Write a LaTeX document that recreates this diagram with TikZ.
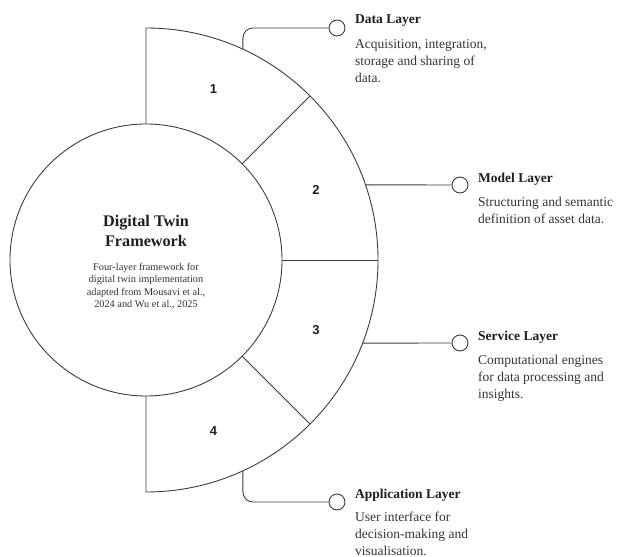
\documentclass[tikz,border=0pt]{standalone}
\usepackage{fontspec}
\setmainfont{Liberation Serif}
\newfontfamily\numfont{Liberation Sans}
\usetikzlibrary{calc}
\definecolor{ringgray}{HTML}{3C3C3C}
\definecolor{textdark}{HTML}{1E1E1E}
\definecolor{textgray}{HTML}{333333}
\tikzset{
  ring/.style={draw=ringgray, line width=0.9pt},
  link/.style={draw=ringgray, line width=0.9pt, rounded corners=10pt},
  core/.style={circle, draw=ringgray, line width=0.9pt, minimum size=272pt, inner sep=0pt},
  knob/.style={circle, draw=ringgray, line width=0.9pt, fill=white, minimum size=16pt, inner sep=0pt},
  num/.style={font=\numfont\bfseries\fontsize{13}{15}\selectfont, text=textdark},
  layerhead/.style={anchor=base west, inner sep=0pt, font=\bfseries\fontsize{13.5}{17}\selectfont, text=textdark},
  % multi-line nodes sit on the baseline of their last line
  layerdesc/.style={anchor=base west, inner sep=0pt, align=left, font=\fontsize{13.5}{17}\selectfont, text=textgray},
  coretitle/.style={anchor=base, inner sep=0pt, align=center, font=\bfseries\fontsize{16.2}{20}\selectfont, text=textdark},
  coresub/.style={anchor=base, inner sep=0pt, align=center, font=\fontsize{10.3}{12.3}\selectfont, text=textgray}
}
\begin{document}
\begin{tikzpicture}[x=1pt,y=1pt]
  \path[use as bounding box] (0,0) rectangle (617,556);
  \coordinate (C) at (146,296);

  % half ring split into four layers
  \draw[ring] ($(C)+(90:136)$) -- ($(C)+(90:232)$)
    arc[start angle=90, end angle=-90, radius=232pt] -- ($(C)+(-90:136)$);
  \foreach \a in {45,0,-45}
    \draw[ring] ($(C)+(\a:136)$) -- ($(C)+(\a:232)$);
  \node[core] (core) at (C) {};

  \node[num] (n1) at ($(C)+(68.5:184)$) {1};
  \node[num] (n2) at ($(C)+(22.5:184)$) {2};
  \node[num] (n3) at ($(C)+(-22.5:184)$) {3};
  \node[num] (n4) at ($(C)+(-68.5:184)$) {4};

  \node[coretitle] (title) at (146,309) {Digital Twin\\Framework};
  \node[coresub] (sub) at (146,248.4)
    {Four-layer framework for\\digital twin implementation\\adapted from Mousavi et al.,\\2024 and Wu et al., 2025};

  % taps on the outer arc
  \coordinate (tapA) at ($(C)+(65.3:232)$);
  \coordinate (tapB) at ($(C)+(18.9:232)$);
  \coordinate (tapC) at ($(C)+(-21:232)$);
  \coordinate (tapD) at ($(C)+(-65.3:232)$);

  \node[knob] (knobA) at (337,528) {};
  \node[knob] (knobB) at (460,371) {};
  \node[knob] (knobC) at (460,213) {};
  \node[knob] (knobD) at (337,54) {};

  \draw[link] (tapA) |- (knobA.west);
  \draw[link] (tapB) -- (knobB.west);
  \draw[link] (tapC) -- (knobC.west);
  \draw[link] (tapD) |- (knobD.west);

  \node[layerhead] (dataT) at (355,532) {Data Layer};
  \node[layerdesc] (dataD) at (355,473)
    {Acquisition, integration,\\storage and sharing of\\data.};
  \node[layerhead] (modelT) at (478,373.3) {Model Layer};
  \node[layerdesc] (modelD) at (478,332.3)
    {Structuring and semantic\\definition of asset data.};
  \node[layerhead] (servT) at (478,215.3) {Service Layer};
  \node[layerdesc] (servD) at (478,157)
    {Computational engines\\for data processing and\\insights.};
  \node[layerhead] (appT) at (355,57.7) {Application Layer};
  \node[layerdesc] (appD) at (355,0.3)
    {User interface for\\decision-making and\\visualisation.};
\end{tikzpicture}
\end{document}
